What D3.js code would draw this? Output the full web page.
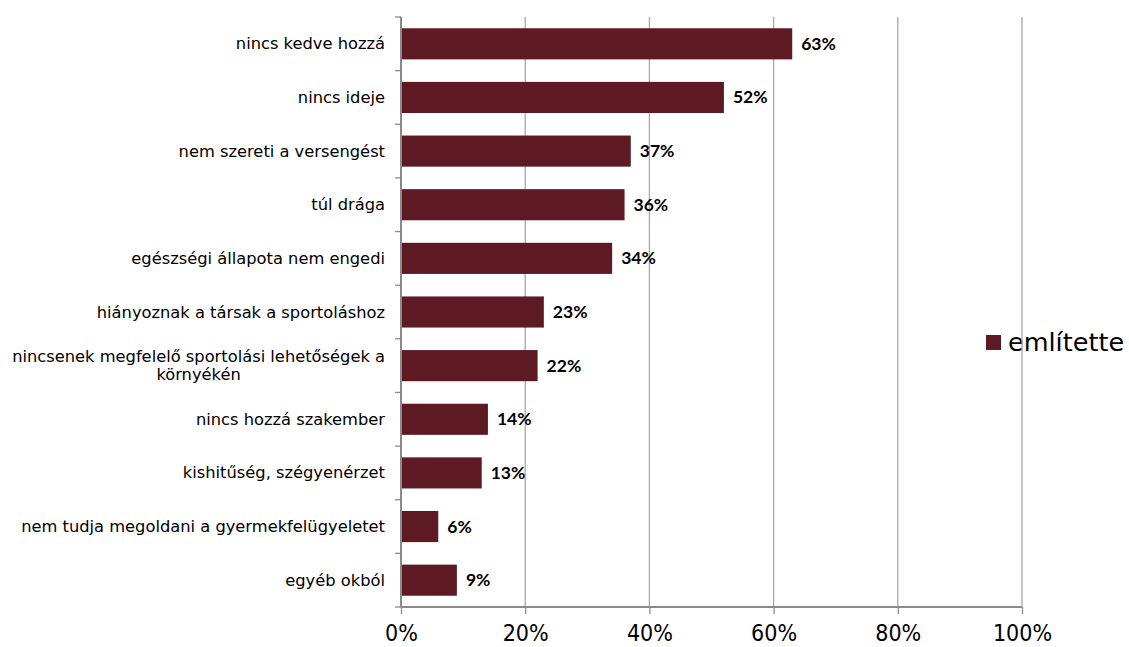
<!DOCTYPE html>
<html>
<head>
<meta charset="utf-8">
<script src="https://cdn.jsdelivr.net/npm/d3@7"></script>
<style>
  html, body { margin: 0; padding: 0; background: #fff; }
  svg { display: block; }
</style>
</head>
<body>
<svg id="chart" width="1129" height="647"></svg>
<script>
// Reasons for not doing sport (share of respondents who mentioned each)
const categories = [
  "nincs kedve hozzá",
  "nincs ideje",
  "nem szereti a versengést",
  "túl drága",
  "egészségi állapota nem engedi",
  "hiányoznak a társak a sportoláshoz",
  "nincsenek megfelelő sportolási lehetőségek a környékén",
  "nincs hozzá szakember",
  "kishitűség, szégyenérzet",
  "nem tudja megoldani a gyermekfelügyeletet",
  "egyéb okból"
];
const values = [63, 52, 37, 36, 34, 23, 22, 14, 13, 6, 9];
const xTicks = [0, 20, 40, 60, 80, 100];
const seriesName = "említette";

const svg = d3.select("#chart");
const plot = { left: 401, right: 1022, top: 17, bottom: 607 };
const barColor = "#5e1a23";
const gridColor = "#a8a8a8";
const axisColor = "#8a8a8a";

const x = d3.scaleLinear().domain([0, 100]).range([plot.left, plot.right]);
const y = d3.scaleBand().domain(categories).range([plot.top, plot.bottom]).paddingInner(0.42).paddingOuter(0.21);
const yBand = d3.scaleBand().domain(categories).range([plot.top, plot.bottom]);

// Legend (drawn first so the last gridline passes over it)
const legend = svg.append("g").attr("transform", "translate(986,335)");
legend.append("rect").attr("width", 15).attr("height", 15).attr("fill", barColor);
legend.append("text")
  .attr("x", 22).attr("y", 15.5)
  .attr("font-family", "DejaVu Sans, Verdana, sans-serif")
  .attr("font-size", 25.5)
  .attr("fill", "#000")
  .text(seriesName);

// Vertical gridlines
svg.append("g").selectAll("line").data(xTicks.filter(d => d > 0)).join("line")
  .attr("x1", d => x(d)).attr("x2", d => x(d))
  .attr("y1", plot.top).attr("y2", plot.bottom)
  .attr("stroke", gridColor).attr("stroke-width", 1.3);

// Bars
svg.append("g").selectAll("rect").data(categories).join("rect")
  .attr("x", x(0))
  .attr("y", d => y(d))
  .attr("width", (d, i) => x(values[i]) - x(0))
  .attr("height", y.bandwidth())
  .attr("fill", barColor);

// Value labels
svg.append("g").selectAll("text").data(categories).join("text")
  .attr("x", (d, i) => x(values[i]) + 9)
  .attr("y", d => y(d) + y.bandwidth() / 2 + 6)
  .attr("font-family", "Lato, 'Open Sans', sans-serif")
  .attr("font-weight", 700)
  .attr("font-size", 17.5)
  .attr("fill", "#000")
  .text((d, i) => values[i] + "%");

// Category axis
const yAxis = d3.axisLeft(yBand).tickSize(0).tickFormat("");
const gy = svg.append("g").attr("transform", `translate(${plot.left},0)`).call(yAxis);
gy.select(".domain").remove();
gy.append("line")
  .attr("x1", 0).attr("x2", 0).attr("y1", plot.top).attr("y2", plot.bottom)
  .attr("stroke", axisColor).attr("stroke-width", 2);
// tick marks on band boundaries
const boundaries = categories.map(c => yBand(c)).concat([plot.bottom]);
gy.selectAll(".bound").data(boundaries).join("line").attr("class", "bound")
  .attr("x1", -6).attr("x2", 0).attr("y1", d => d).attr("y2", d => d)
  .attr("stroke", axisColor).attr("stroke-width", 1.3);

// Category labels, wrapped when too long
const labelG = svg.append("g")
  .attr("font-family", "DejaVu Sans, Verdana, sans-serif")
  .attr("font-size", 16.3)
  .attr("fill", "#000");
const maxLabelWidth = 382;
const lineHeight = 18;
categories.forEach(c => {
  const t = labelG.append("text").attr("text-anchor", "end");
  const words = c.split(" ");
  const lines = [];
  let line = [];
  const probe = labelG.append("text");
  words.forEach(w => {
    const test = line.concat([w]).join(" ");
    probe.text(test);
    if (probe.node().getComputedTextLength() > maxLabelWidth && line.length) {
      lines.push(line.join(" "));
      line = [w];
    } else {
      line.push(w);
    }
  });
  lines.push(line.join(" "));
  probe.remove();
  const cy = yBand(c) + yBand.bandwidth() / 2;
  const first = cy + 5.5 - (lines.length - 1) * lineHeight / 2;
  lines.forEach((ln, i) => {
    t.append("tspan")
      .attr("x", lines.length > 1 ? null : 385)
      .attr("y", first + i * lineHeight)
      .text(ln);
  });
  if (lines.length > 1) {
    // wrapped lines are centred on each other, right edge at the axis
    t.attr("text-anchor", "middle");
    const w = d3.max(t.selectAll("tspan").nodes(), n => n.getComputedTextLength());
    t.selectAll("tspan").attr("x", 385 - w / 2);
  }
});

// Value axis
const xAxis = d3.axisBottom(x).tickValues(xTicks).tickSize(0).tickFormat(d => d + "%");
const gx = svg.append("g").attr("transform", `translate(0,${plot.bottom})`).call(xAxis);
gx.select(".domain").remove();
gx.append("line")
  .attr("x1", plot.left).attr("x2", plot.right).attr("y1", 0).attr("y2", 0)
  .attr("stroke", axisColor).attr("stroke-width", 2);
gx.selectAll(".tick").append("line")
  .attr("y1", 0).attr("y2", 7)
  .attr("stroke", axisColor).attr("stroke-width", 1.3);
gx.selectAll(".tick text")
  .attr("dy", 0).attr("y", 34)
  .attr("font-family", "'Liberation Sans Narrow', 'DejaVu Sans Condensed', sans-serif")
  .attr("font-size", 23)
  .attr("fill", "#000");
</script>
</body>
</html>
